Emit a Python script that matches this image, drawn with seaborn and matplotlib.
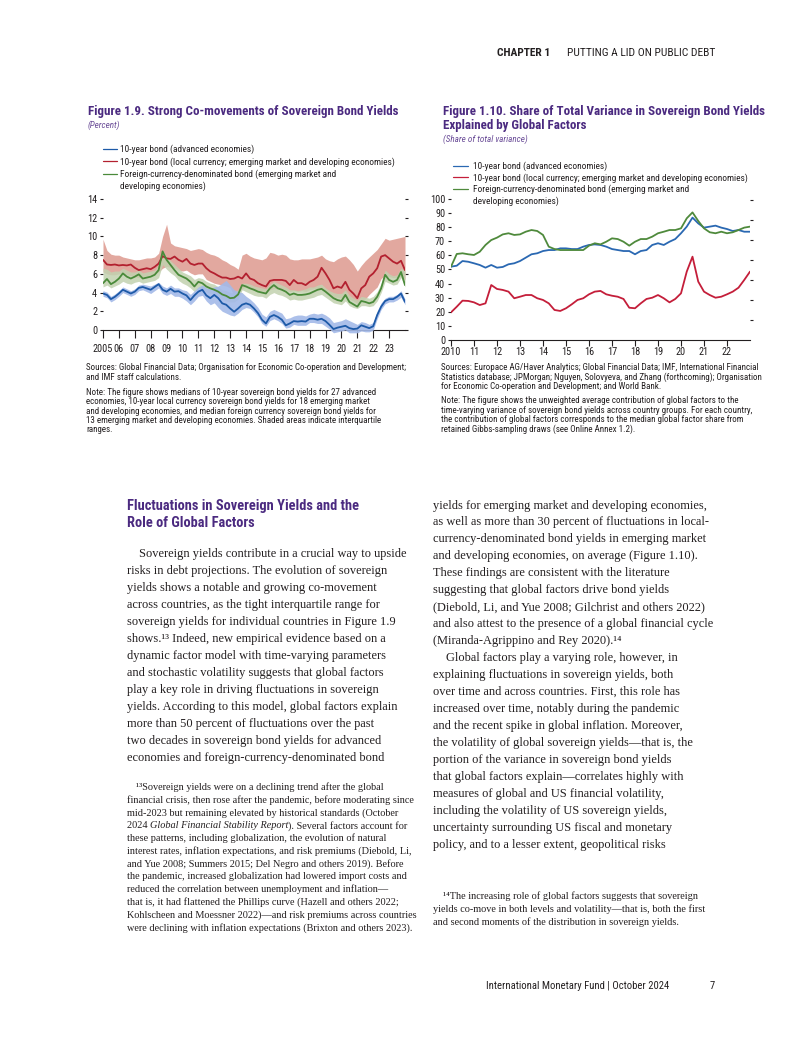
import numpy as np
import pandas as pd
import matplotlib
matplotlib.use("Agg")
import matplotlib.pyplot as plt
import seaborn as sns
from matplotlib import font_manager as fm
from matplotlib.font_manager import FontProperties
from matplotlib.lines import Line2D

W, H = 802, 1037

# ---------------- Figure 1.9 data (quarterly, 2005Q1 ... 2024Q1) ----------------
years1 = 2005 + np.arange(77) / 4.0
adv_med = [3.9, 3.75, 3.3, 3.55, 3.9, 4.3, 4.1, 3.9, 4.1, 4.5, 4.6, 4.45, 4.3, 4.6, 4.9, 4.3,
           4.1, 4.4, 4.1, 4.15, 3.9, 3.7, 3.2, 3.7, 4.1, 4.3, 3.7, 3.4, 3.75, 3.4, 2.85, 2.7,
           2.3, 1.95, 2.3, 2.7, 2.85, 2.7, 2.3, 1.8, 1.1, 0.7, 1.4, 1.6, 1.4, 1.1, 0.5, 0.7,
           0.95, 0.9, 0.95, 0.9, 1.2, 1.2, 1.1, 1.2, 0.95, 0.55, 0.1, 0.25, 0.35, 0.45, 0.2, 0.1,
           0.15, 0.5, 0.35, 0.2, 0.4, 1.6, 2.5, 3.1, 3.3, 3.3, 3.55, 3.9, 3.0]
adv_lo = [3.6, 3.45, 3.0, 3.25, 3.6, 4.0, 3.8, 3.6, 3.8, 4.2, 4.3, 4.1, 3.9, 4.2, 4.5, 3.9,
          3.7, 3.9, 3.6, 3.6, 3.4, 3.1, 2.7, 3.1, 3.6, 3.7, 3.1, 2.7, 2.9, 2.4, 2.0, 1.8,
          1.6, 1.5, 1.8, 2.2, 2.4, 2.3, 1.9, 1.4, 0.7, 0.4, 1.0, 1.2, 1.0, 0.7, 0.2, 0.3,
          0.6, 0.5, 0.5, 0.5, 0.8, 0.8, 0.7, 0.7, 0.4, 0.1, -0.3, -0.2, -0.1, 0.0, -0.3, -0.3,
          -0.3, -0.1, -0.2, -0.2, 0.0, 1.2, 2.2, 2.8, 3.0, 3.0, 3.2, 3.5, 2.7]
adv_hi = [4.2, 4.05, 3.6, 3.85, 4.2, 4.6, 4.4, 4.2, 4.4, 4.8, 4.9, 4.8, 4.7, 4.9, 5.1, 4.7,
          4.5, 4.8, 4.5, 4.5, 4.3, 4.2, 3.8, 4.2, 4.6, 4.8, 4.5, 4.4, 4.6, 4.7, 5.0, 5.3,
          4.8, 4.3, 4.1, 4.0, 3.6, 3.3, 2.9, 2.4, 1.7, 1.4, 2.0, 2.2, 2.0, 1.8, 1.2, 1.3,
          1.5, 1.6, 1.6, 1.5, 1.7, 1.8, 1.7, 1.8, 1.6, 1.3, 0.8, 0.9, 1.0, 1.2, 1.0, 0.8,
          0.6, 0.9, 0.8, 0.6, 0.8, 2.0, 2.9, 3.4, 3.6, 3.6, 3.8, 4.2, 3.3]
loc_med = [7.5, 7.0, 6.95, 7.0, 6.9, 6.95, 6.9, 7.0, 6.65, 6.4, 6.5, 6.6, 6.5, 6.75, 7.1, 7.9,
           7.65, 7.6, 7.85, 7.5, 7.3, 7.6, 7.1, 6.95, 7.1, 7.1, 6.6, 6.25, 6.05, 5.8, 5.6, 5.6,
           5.45, 5.5, 5.7, 5.5, 6.05, 5.5, 5.35, 5.0, 4.8, 4.65, 5.25, 5.35, 5.35, 5.35, 5.25, 4.8,
           5.35, 5.0, 5.0, 4.8, 5.15, 5.35, 5.7, 6.65, 6.05, 5.35, 4.45, 4.65, 4.5, 5.15, 4.3, 3.9,
           3.4, 4.45, 4.8, 5.7, 6.05, 6.6, 7.85, 8.0, 7.65, 7.3, 7.1, 7.4, 6.4]
loc_lo = [6.2, 6.0, 5.9, 5.9, 6.0, 6.1, 5.9, 5.8, 5.7, 5.6, 5.7, 5.8, 5.9, 6.0, 6.2, 6.6,
          6.8, 6.7, 6.6, 6.4, 6.3, 6.4, 6.1, 5.9, 6.0, 6.0, 5.4, 5.2, 5.0, 4.9, 4.8, 4.7,
          4.5, 3.7, 4.0, 4.4, 4.6, 4.5, 4.3, 4.2, 4.2, 4.0, 4.3, 4.4, 4.4, 4.4, 4.3, 4.1,
          4.2, 4.1, 4.2, 4.1, 4.3, 4.4, 4.5, 4.5, 4.0, 3.8, 3.5, 3.5, 3.4, 3.6, 3.3, 3.1,
          2.8, 3.2, 3.3, 3.8, 4.2, 4.6, 5.5, 5.8, 5.7, 5.6, 5.6, 5.7, 5.4]
loc_hi = [9.7, 8.5, 8.1, 8.0, 8.0, 7.8, 7.7, 7.6, 7.5, 7.5, 7.6, 7.7, 7.7, 7.8, 8.2, 10.0,
          11.3, 9.3, 9.0, 8.9, 8.8, 8.7, 8.5, 8.6, 8.7, 8.6, 8.3, 8.1, 8.0, 7.8, 7.5, 7.3,
          7.0, 6.8, 6.5, 8.0, 8.2, 7.9, 7.7, 7.6, 7.5, 7.7, 8.3, 8.2, 8.0, 8.1, 8.0, 7.6,
          7.5, 7.5, 7.6, 7.6, 7.6, 7.7, 7.8, 8.0, 7.6, 7.4, 7.3, 7.6, 7.8, 7.9, 7.5, 7.0,
          6.3, 6.9, 7.4, 7.8, 8.2, 8.6, 9.2, 9.8, 9.6, 9.7, 9.8, 9.9, 10.0]
fx_med = [5.0, 5.45, 4.9, 5.15, 5.5, 6.05, 5.7, 5.5, 5.7, 5.95, 5.5, 5.6, 5.7, 5.9, 6.4, 8.4,
          7.5, 6.95, 6.4, 5.9, 5.7, 5.5, 5.15, 4.65, 5.15, 5.0, 4.65, 4.45, 4.3, 4.1, 3.8, 3.65,
          3.4, 3.45, 3.8, 4.8, 4.65, 4.45, 4.3, 4.1, 4.0, 3.9, 4.45, 4.8, 4.45, 4.3, 4.1, 3.75,
          3.9, 3.75, 3.75, 3.8, 3.9, 4.1, 4.3, 4.4, 4.1, 3.75, 3.4, 3.2, 3.1, 3.75, 3.0, 2.75,
          2.5, 3.1, 3.0, 2.85, 3.0, 3.55, 4.45, 5.9, 5.35, 5.15, 5.35, 6.2, 4.8]
fx_lo = [4.6, 4.8, 4.5, 4.7, 4.9, 5.2, 5.0, 4.9, 5.1, 5.2, 5.0, 5.1, 5.2, 5.3, 5.6, 7.0,
         6.5, 6.1, 5.8, 5.3, 5.0, 4.8, 4.5, 4.1, 4.5, 4.4, 4.1, 3.9, 3.9, 3.6, 3.3, 3.1,
         3.0, 3.0, 3.3, 4.3, 4.1, 3.9, 3.7, 3.6, 3.6, 3.4, 3.8, 4.0, 3.8, 3.7, 3.5, 3.2,
         3.3, 3.2, 3.2, 3.3, 3.4, 3.5, 3.7, 3.8, 3.5, 3.2, 2.9, 2.8, 2.7, 3.1, 2.6, 2.4,
         2.3, 2.6, 2.6, 2.5, 2.6, 3.1, 4.0, 5.2, 5.0, 4.8, 4.9, 5.6, 4.6]
fx_hi = [6.6, 6.5, 6.2, 6.3, 6.3, 6.6, 6.4, 6.2, 6.2, 6.4, 6.1, 6.2, 6.3, 6.4, 6.9, 8.5,
         7.8, 7.4, 7.0, 6.6, 6.2, 6.0, 5.8, 5.4, 5.6, 5.5, 5.2, 5.0, 4.9, 4.6, 4.3, 4.2,
         4.0, 4.0, 4.3, 5.0, 5.0, 4.9, 4.7, 4.6, 4.5, 4.4, 4.9, 5.2, 5.0, 4.8, 4.6, 4.3,
         4.3, 4.2, 4.3, 4.4, 4.6, 4.6, 4.8, 4.9, 4.5, 4.2, 4.0, 3.9, 3.9, 4.3, 3.7, 3.4,
         3.2, 3.6, 3.5, 3.4, 3.6, 4.1, 5.0, 6.4, 6.0, 5.8, 5.9, 6.6, 6.3]
ticks1 = list(range(2005, 2024))
ticklabels1 = ["2005"] + ["%02d" % (y % 100) for y in range(2006, 2024)]

# ---------------- Figure 1.10 data (quarterly, 2010Q1 ... 2023Q1) ----------------
years2 = 2010 + np.arange(53) / 4.0
share_adv = [52, 52.7, 56, 55.5, 54.4, 53.2, 51.3, 53.2, 51.3, 51.8, 53.7, 54.4, 56, 58.4, 60.8, 61.5,
             63.1, 63.8, 63.8, 65, 65, 64.5, 64.5, 66.2, 67.4, 67.8, 67.4, 66.2, 64.5, 63.8, 63.1, 63.1,
             60.8, 63.1, 63.8, 67.4, 68.6, 67.4, 69.7, 71.6, 75.7, 80.4, 86.8, 82.7, 79.7, 80.4, 81.1, 79.7,
             78.7, 77.3, 78, 76.8, 76.8]
share_loc = [19.6, 23.6, 27.9, 27.7, 26.7, 24.8, 26, 39, 36.2, 35.5, 34.3, 29.6, 30.7, 31.9, 31.9, 29.6,
             28.4, 26, 21.3, 20.6, 22.5, 25.3, 28.4, 29.6, 32.4, 34.3, 34.8, 32.4, 31.4, 30.7, 29.1, 22.9,
             22.5, 26, 29.1, 30, 31.9, 29.6, 26.7, 29.1, 33.1, 48.5, 59.1, 41.4, 34.3, 31.9, 30, 30.7,
             32.4, 34.3, 37.1, 42.6, 48.5]
share_fx = [52, 61, 61.5, 60.8, 60.3, 62.6, 67.4, 70.9, 72.6, 74.9, 75.7, 74.5, 74.9, 76.8, 78, 77.3,
            74.5, 66.2, 64.5, 63.8, 63.8, 63.8, 63.8, 63.8, 66.9, 68.6, 67.8, 69.7, 72.1, 71.6, 69.7, 66.9,
            69.7, 71.6, 71.6, 73.3, 75.7, 76.8, 78, 78, 79.2, 86.3, 90.5, 84.4, 79.2, 76.4, 75.7, 76.8,
            75.7, 76.4, 78, 79.7, 80.4]
ticks2 = list(range(2010, 2023))
ticklabels2 = ["2010"] + ["%02d" % (y % 100) for y in range(2011, 2023)]

series_names = ["10-year bond (advanced economies)",
                "10-year bond (local currency; emerging market and developing economies)",
                "Foreign-currency-denominated bond (emerging market and\ndeveloping economies)"]

# ---------------- style / fonts ----------------
sns.set_style("white")
SERIFF = ['Liberation Serif', 'DejaVu Serif']
plt.rcParams['font.family'] = ['Liberation Sans', 'DejaVu Sans']


def _w(f):
    w = f.weight
    if isinstance(w, str):
        w = {'bold': 700, 'normal': 400, 'regular': 400, 'medium': 500, 'semibold': 600,
             'light': 300, 'black': 900, 'heavy': 800, 'book': 400}.get(w.lower(), 400)
    return w


def find_condensed():
    groups = {}
    for f in fm.fontManager.ttflist:
        n = f.fname.lower().replace('-', '').replace('_', '')
        narrow = ('narrow' in n or 'condensed' in n
                  or str(f.stretch) in ('condensed', 'semi-condensed'))
        if not narrow:
            continue
        if 'extracondensed' in n or 'ultracondensed' in n or 'mono' in n or 'serif' in n:
            continue
        key = f.name + ('_semi' if 'semicondensed' in n else '')
        groups.setdefault(key, []).append(f)
    order = ['Roboto Condensed', 'Liberation Sans Narrow', 'Open Sans Condensed', 'Noto Sans',
             'DejaVu Sans', 'Arial Narrow']
    keys = sorted(groups, key=lambda k: (order.index(k) if k in order else 50))
    for k in keys:
        fs = groups[k]
        reg = [f for f in fs if f.style == 'normal' and 350 <= _w(f) <= 450]
        bold = [f for f in fs if f.style == 'normal' and _w(f) >= 600]
        ital = [f for f in fs if f.style != 'normal' and _w(f) <= 450]
        if reg:
            bold.sort(key=lambda f: abs(_w(f) - 700))
            return k, reg[0].fname, (bold[0].fname if bold else None), (ital[0].fname if ital else None)
    return None


cond = find_condensed()
if cond is not None:
    _, f_reg, f_bold, f_it = cond

    def FP(kind='reg', size=10):
        fn = {'reg': f_reg, 'bold': f_bold or f_reg, 'it': f_it or f_reg}[kind]
        return FontProperties(fname=fn, size=size)
else:
    def FP(kind='reg', size=10):
        return FontProperties(family='Liberation Sans',
                              weight='bold' if kind == 'bold' else 'normal',
                              style='italic' if kind == 'it' else 'normal', size=size)

TEXT = '#231f20'
PURPLE = '#4b2a80'
PURPLE_L = '#6b4d98'
BLUE1, RED1, GREEN1 = '#1d5aa8', '#b3202f', '#4a8a3a'
BLUE2, RED2, GREEN2 = '#2a68b2', '#c41e3a', '#4f8a3c'

fig = plt.figure(figsize=(W / 100, H / 100), dpi=100)
fig.patch.set_facecolor('white')
renderer = fig.canvas.get_renderer()


def fx(x):
    return x / W


def fy(y):
    return 1 - y / H


def measure(s, **kw):
    t = fig.text(0, 0, s, **kw)
    w = t.get_window_extent(renderer).width
    t.remove()
    return w


def fit_serif(s, target):
    return 10.0 * target / measure(s, fontsize=10.0, family=SERIFF)


def fit_sans(s, target, kind='reg'):
    return 10.0 * target / measure(s, fontproperties=FP(kind, 10.0))


def put(x, y, s, **kw):
    kw.setdefault('va', 'center_baseline')
    kw.setdefault('color', TEXT)
    return fig.text(fx(x), fy(y), s, **kw)


def sput(x, y, s, kind, size, **kw):
    return put(x, y, s, fontproperties=FP(kind, size), **kw)


def put_runs(x, y, runs, **kw):
    cur = x
    for text, extra in runs:
        k = dict(kw)
        k.update(extra)
        put(cur, y, text, **k)
        kk = {a: b for a, b in k.items() if a not in ('va', 'color')}
        cur += measure(text + '|', **kk) - measure('|', **kk)


# font sizes fitted to widths measured on the reference page
fs_title = fit_sans("Figure 1.9. Strong Co-movements of Sovereign Bond Yields", 311, 'bold')
fs_sub = fit_sans("(Share of total variance)", 85, 'it')
fs_leg = fit_sans(series_names[1], 275)
fs_src = fit_sans("Sources: Global Financial Data; Organisation for Economic Co-operation and Development;", 317)
fs_tick = fit_sans("2005", 20)
fs_head = fit_sans("Fluctuations in Sovereign Yields and the", 231.6, 'bold')
fs_body = 0.5 * (fit_serif("Sovereign yields contribute in a crucial way to upside", 268)
                 + fit_serif("and also attest to the presence of a global financial cycle", 280.3))
fs_fn = fit_serif("financial crisis, then rose after the pandemic, before moderating since", 285)
fs_hdr = fit_sans("PUTTING A LID ON PUBLIC DEBT", 148)
fs_foot = fit_sans("International Monetary Fund | October 2024", 180.7)

# ---------------- header ----------------
sput(496.7, 51.7, "CHAPTER 1", 'bold', fs_hdr)
sput(566.7, 51.7, "PUTTING A LID ON PUBLIC DEBT", 'reg', fs_hdr)

# ---------------- Figure 1.9 ----------------
sput(88, 110, "Figure 1.9. Strong Co-movements of Sovereign Bond Yields", 'bold', fs_title, color=PURPLE)
sput(88, 124.3, "(Percent)", 'it', fs_sub, color=PURPLE_L)


def legend(x0, x1, xt, y0, dy, colors):
    lines = []
    for name, c in zip(series_names, colors):
        for j, part in enumerate(name.split("\n")):
            lines.append((part, c if j == 0 else None))
    for i, (part, c) in enumerate(lines):
        y = y0 + i * dy
        if c is not None:
            fig.add_artist(Line2D([fx(x0), fx(x1)], [fy(y + 0.5), fy(y + 0.5)], transform=fig.transFigure,
                                  color=c, lw=0.9))
        sput(xt, y, part, 'reg', fs_leg)


legend(103.3, 116.7, 120, 148.5, 12.3, [BLUE1, RED1, GREEN1])

ylo1, yhi1 = -0.7, 14.0
px_per1 = (330 - 199) / 14.0
bottom1 = 330 - ylo1 * px_per1
ax1 = fig.add_axes([fx(103), fy(bottom1), (405 - 103) / W, (bottom1 - 199) / H])
ax1.fill_between(years1, loc_lo, loc_hi, color='#e2a89f', lw=0, zorder=1)
ax1.fill_between(years1, fx_lo, fx_hi, color='#c2d2b0', lw=0, alpha=0.85, zorder=2)
ax1.fill_between(years1, adv_lo, adv_hi, color='#a3b9e8', lw=0, alpha=0.9, zorder=3)
df1 = pd.DataFrame({"year": np.tile(years1, 3),
                    "value": np.concatenate([loc_med, fx_med, adv_med]),
                    "series": np.repeat(["loc", "fx", "adv"], len(years1))})
sns.lineplot(data=df1, x="year", y="value", hue="series",
             palette={"loc": RED1, "fx": GREEN1, "adv": BLUE1},
             legend=False, ax=ax1, lw=1.3, zorder=5)
ax1.set_xlim(2005, 2024)
ax1.set_ylim(ylo1, yhi1)
ax1.set_yticks(range(0, 15, 2))
ax1.set_xticks(ticks1)
ax1.set_xticklabels(ticklabels1)

# ---------------- Figure 1.10 ----------------
sput(443, 110, "Figure 1.10. Share of Total Variance in Sovereign Bond Yields", 'bold', fs_title, color=PURPLE)
sput(443, 124.3, "Explained by Global Factors", 'bold', fs_title, color=PURPLE)
sput(443, 138.3, "(Share of total variance)", 'it', fs_sub, color=PURPLE_L)
legend(453.3, 468.3, 473.3, 165, 11.7, [BLUE2, RED2, GREEN2])

ax2 = fig.add_axes([fx(451), fy(340), (750 - 451) / W, (340 - 199) / H])
df2 = pd.DataFrame({"year": np.tile(years2, 3),
                    "value": np.concatenate([share_loc, share_adv, share_fx]),
                    "series": np.repeat(["loc", "adv", "fx"], len(years2))})
sns.lineplot(data=df2, x="year", y="value", hue="series",
             palette={"loc": RED2, "fx": GREEN2, "adv": BLUE2},
             legend=False, ax=ax2, lw=1.3, zorder=5)
ax2.set_xlim(2010, 2023)
ax2.set_ylim(0, 100)
ax2.set_yticks(range(0, 101, 10))
ax2.set_xticks(ticks2)
ax2.set_xticklabels(ticklabels2)
tw = ax2.twinx()
tw.set_ylim(0, 141 / 20.0)
tw.set_yticks(range(1, 8))
tw.tick_params(axis='y', right=True, labelright=False, length=2.2, width=0.8, color=TEXT)
for s in tw.spines.values():
    s.set_visible(False)

for ax, tlen, tpad, right in ((ax1, 6.0, 4.2, True), (ax2, 4.3, 0.6, False)):
    ax.set_facecolor('none')
    for s in ('top', 'right', 'left'):
        ax.spines[s].set_visible(False)
    ax.spines['bottom'].set_position(('data', 0))
    ax.spines['bottom'].set_color(TEXT)
    ax.spines['bottom'].set_linewidth(0.8)
    ax.set_xlabel('')
    ax.set_ylabel('')
    ax.grid(False)
    ax.tick_params(axis='x', bottom=True, direction='out', length=tlen, width=0.8, color=TEXT,
                   pad=tpad, labelcolor=TEXT)
    ax.tick_params(axis='y', left=True, right=right, labelleft=True, labelright=False, direction='out',
                   length=2.2, width=0.8, color=TEXT, pad=2.0, labelcolor=TEXT)
    for lab in ax.get_xticklabels() + ax.get_yticklabels():
        lab.set_fontproperties(FP('reg', fs_tick))

# ---------------- sources & notes ----------------
src1 = [("Sources: Global Financial Data; Organisation for Economic Co-operation and Development;", 366.7),
        ("and IMF staff calculations.", 376.3),
        ("Note: The figure shows medians of 10-year sovereign bond yields for 27 advanced", 391.7),
        ("economies, 10-year local currency sovereign bond yields for 18 emerging market", 401.0),
        ("and developing economies, and median foreign currency sovereign bond yields for", 410.3),
        ("13 emerging market and developing economies. Shaded areas indicate interquartile", 419.6),
        ("ranges.", 428.9)]
for s, y in src1:
    sput(86, y, s, 'reg', fs_src)
src2 = [("Sources: Europace AG/Haver Analytics; Global Financial Data; IMF, International Financial", 366.7),
        ("Statistics database; JPMorgan; Nguyen, Solovyeva, and Zhang (forthcoming); Organisation", 376.3),
        ("for Economic Co-operation and Development; and World Bank.", 385.9),
        ("Note: The figure shows the unweighted average contribution of global factors to the", 399.5),
        ("time-varying variance of sovereign bond yields across country groups. For each country,", 409.1),
        ("the contribution of global factors corresponds to the median global factor share from", 418.7),
        ("retained Gibbs-sampling draws (see Online Annex 1.2).", 428.3)]
for s, y in src2:
    sput(441, y, s, 'reg', fs_src)

# ---------------- body text ----------------
sput(126.7, 504, "Fluctuations in Sovereign Yields and the", 'bold', fs_head, color=PURPLE)
sput(126.7, 521.7, "Role of Global Factors", 'bold', fs_head, color=PURPLE)

left_lines = ["Sovereign yields contribute in a crucial way to upside",
              "risks in debt projections. The evolution of sovereign",
              "yields shows a notable and growing co-movement",
              "across countries, as the tight interquartile range for",
              "sovereign yields for individual countries in Figure 1.9",
              "shows.\u00b9\u00b3 Indeed, new empirical evidence based on a",
              "dynamic factor model with time-varying parameters",
              "and stochastic volatility suggests that global factors",
              "play a key role in driving fluctuations in sovereign",
              "yields. According to this model, global factors explain",
              "more than 50 percent of fluctuations over the past",
              "two decades in sovereign bond yields for advanced",
              "economies and foreign-currency-denominated bond"]
for i, s in enumerate(left_lines):
    put(139 if i == 0 else 126.7, 553 + 16.93 * i, s, family=SERIFF, fontsize=fs_body)

right_lines = ["yields for emerging market and developing economies,",
               "as well as more than 30 percent of fluctuations in local-",
               "currency-denominated bond yields in emerging market",
               "and developing economies, on average (Figure 1.10).",
               "These findings are consistent with the literature",
               "suggesting that global factors drive bond yields",
               "(Diebold, Li, and Yue 2008; Gilchrist and others 2022)",
               "and also attest to the presence of a global financial cycle",
               "(Miranda-Agrippino and Rey 2020).\u00b9\u2074",
               "Global factors play a varying role, however, in",
               "explaining fluctuations in sovereign yields, both",
               "over time and across countries. First, this role has",
               "increased over time, notably during the pandemic",
               "and the recent spike in global inflation. Moreover,",
               "the volatility of global sovereign yields\u2014that is, the",
               "portion of the variance in sovereign bond yields",
               "that global factors explain\u2014correlates highly with",
               "measures of global and US financial volatility,",
               "including the volatility of US sovereign yields,",
               "uncertainty surrounding US fiscal and monetary",
               "policy, and to a lesser extent, geopolitical risks"]
for i, s in enumerate(right_lines):
    put(446 if i == 9 else 432.7, 504 + 16.97 * i, s, family=SERIFF, fontsize=fs_body)

fn13 = ["\u00b9\u00b3Sovereign yields were on a declining trend after the global",
        "financial crisis, then rose after the pandemic, before moderating since",
        "mid-2023 but remaining elevated by historical standards (October",
        None,
        "these patterns, including globalization, the evolution of natural",
        "interest rates, inflation expectations, and risk premiums (Diebold, Li,",
        "and Yue 2008; Summers 2015; Del Negro and others 2019). Before",
        "the pandemic, increased globalization had lowered import costs and",
        "reduced the correlation between unemployment and inflation\u2014",
        "that is, it had flattened the Phillips curve (Hazell and others 2022;",
        "Kohlscheen and Moessner 2022)\u2014and risk premiums across countries",
        "were declining with inflation expectations (Brixton and others 2023)."]
for i, s in enumerate(fn13):
    y = 786 + 12.8 * i
    if s is None:
        put_runs(126.7, y, [("2024 ", {}), ("Global Financial Stability Report", {'style': 'italic'}),
                            ("). Several factors account for", {})], family=SERIFF, fontsize=fs_fn)
    else:
        put(135.7 if i == 0 else 126.7, y, s, family=SERIFF, fontsize=fs_fn)

fn14 = ["\u00b9\u2074The increasing role of global factors suggests that sovereign",
        "yields co-move in both levels and volatility\u2014that is, both the first",
        "and second moments of the distribution in sovereign yields."]
for i, s in enumerate(fn14):
    put(442.7 if i == 0 else 432.7, 895 + 13.3 * i, s, family=SERIFF, fontsize=fs_fn)

# ---------------- footer ----------------
sput(486, 985, "International Monetary Fund | October 2024", 'reg', fs_foot)
sput(710, 985, "7", 'reg', fs_foot)

fig.savefig("out.png", dpi=100, facecolor='white')
